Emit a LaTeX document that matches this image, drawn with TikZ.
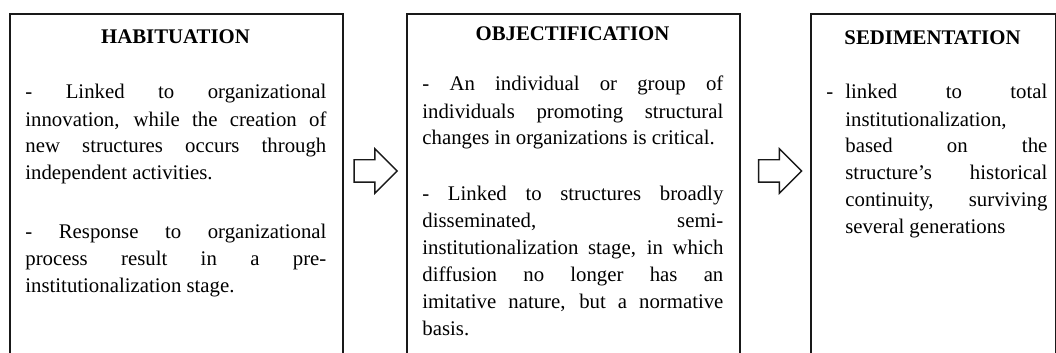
\documentclass[tikz,border=0pt]{standalone}
\usepackage{fontspec}
\setmainfont{Liberation Serif}
\usetikzlibrary{shapes.arrows}
\tolerance=10000
\hbadness=10000
\hyphenpenalty=10000

\begin{document}
\begin{tikzpicture}[x=0.5pt, y=-0.5pt, line join=miter]
    \pgfmathsetmacro{\boxtop}{13}

    \tikzset{%
      stage_box/.style   = {draw=black!90, line width=1pt, anchor=north west,
                            inner sep=0pt, minimum height=180pt},
      stage_title/.style = {font=\bfseries\fontsize{10.4}{13.5}\selectfont,
                            anchor=base, inner sep=0pt},
      stage_text/.style  = {font=\fontsize{10.4}{13.5}\selectfont, align=justify,
                            anchor=base west, inner sep=0pt},
      flow_arrow/.style  = {draw=black!90, line width=0.7pt, single arrow,
                            single arrow head extend=5.5pt, inner xsep=0pt,
                            inner ysep=5.25pt, minimum height=21.5pt,
                            minimum width=20.5pt}
    }
    \useasboundingbox (0,0) rectangle (1056,353);
    \clip (0,0) rectangle (1056,353);

    % the three stages, open at the bottom of the page
    \foreach \stage/\xl/\bw/\ttl/\ty in {%
        hab/9/333/HABITUATION/44,
        obj/406/333/OBJECTIFICATION/41,
        sed/810/245/SEDIMENTATION/45%
    }{
      \node[stage_box, minimum width=\bw*0.5pt] (\stage) at (\xl,\boxtop) {};
      \node[stage_title] (\stage_title) at (\xl+\bw/2,\ty) {\ttl};
    }

    \node[stage_text, text width=150.5pt] (hab_text) at (25,99)
      {- Linked to organizational\linebreak
       innovation, while the creation of\linebreak
       new structures occurs through\linebreak
       independent activities.\par\vspace{16pt}
       - Response to organizational\linebreak
       process result in a pre-\linebreak
       institutionalization stage.};

    \node[stage_text, text width=150.5pt] (obj_text) at (422,91)
      {- An individual or group of\linebreak
       individuals promoting structural\linebreak
       changes in organizations is critical.\par\vspace{14.5pt}
       - Linked to structures broadly\linebreak
       disseminated, semi-\linebreak
       institutionalization stage, in which\linebreak
       diffusion no longer has an\linebreak
       imitative nature, but a normative\linebreak
       basis.};

    % hanging dash, paragraph closed inside so the indent holds
    \node[stage_text, text width=110.5pt] (sed_text) at (826,99)
      {\noindent\hangindent=9.5pt\hangafter=1\makebox[9.5pt][l]{-}linked to total\linebreak
       institutionalization,\linebreak
       based on the\linebreak
       structure's historical\linebreak
       continuity, surviving\linebreak
       several generations\par};

    % hollow arrows between the stages
    \node[flow_arrow] (hab_obj) at (370,171) {};
    \node[flow_arrow] (obj_sed) at (774.5,171) {};
\end{tikzpicture}
\end{document}
